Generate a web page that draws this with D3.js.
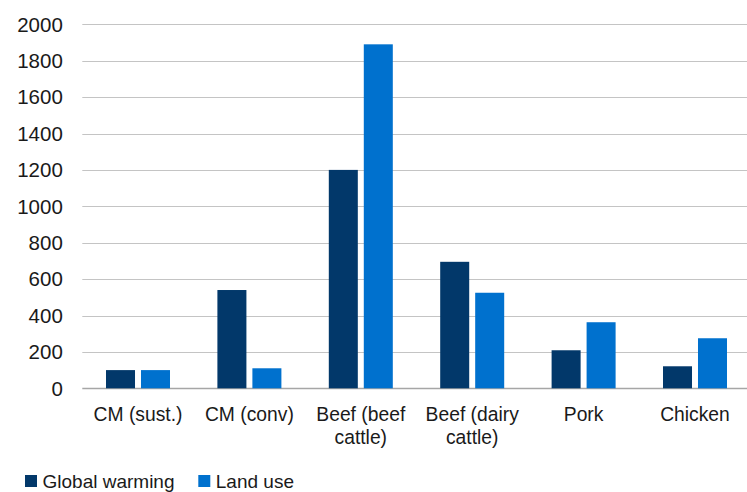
<!DOCTYPE html>
<html>
<head>
<meta charset="utf-8">
<script src="https://cdn.jsdelivr.net/npm/d3@7"></script>
<style>
  html, body { margin: 0; padding: 0; background: #fff; }
  svg { display: block; font-family: "Liberation Sans", Arial, sans-serif; }
</style>
</head>
<body>
<div id="bar-plot"></div>
<script>
// data
const categories = ["CM (sust.)", "CM (conv)", "Beef (beef cattle)", "Beef (dairy cattle)", "Pork", "Chicken"];
const series = ["Global warming", "Land use"];
const globalWarming = [100, 540, 1200, 695, 209, 121];
const landUse = [100, 110, 1890, 525, 363, 275];
const yTicks = [0, 200, 400, 600, 800, 1000, 1200, 1400, 1600, 1800, 2000];
const colors = ["#02386a", "#0071ce"];

const W = 747, H = 492;
const plot = {left: 82.3, right: 750.7, top: 24.3, bottom: 388.3};

const svg = d3.select("#bar-plot").append("svg")
  .attr("width", W).attr("height", H);

const y = d3.scaleLinear().domain([0, 2000]).range([plot.bottom, plot.top]);
const x0 = d3.scaleBand().domain(categories).range([plot.left, plot.right]).padding(0);
const inner = 23.7;
const x1 = d3.scaleBand().domain(series)
  .range([inner, x0.bandwidth() - inner])
  .paddingInner(0.171).paddingOuter(0);

// gridlines
svg.append("g").selectAll("line")
  .data(yTicks)
  .enter().append("line")
    .attr("x1", plot.left).attr("x2", plot.right)
    .attr("y1", d => Math.round(y(d)) + 0.5)
    .attr("y2", d => Math.round(y(d)) + 0.5)
    .attr("stroke", d => d === 0 ? "#a6a6a6" : "#c4c4c4")
    .attr("stroke-width", d => d === 0 ? 1.5 : 1.2);

// y tick labels
svg.append("g").selectAll("text")
  .data(yTicks)
  .enter().append("text")
    .attr("x", 62.8)
    .attr("y", d => y(d))
    .attr("dy", "0.36em")
    .attr("text-anchor", "end")
    .attr("font-size", 20.5)
    .attr("fill", "#1a1a1a")
    .text(d => d);

// bars
const rows = categories.map((c, i) => ({cat: c, vals: [globalWarming[i], landUse[i]]}));
const groups = svg.append("g").selectAll("g")
  .data(rows)
  .enter().append("g")
    .attr("transform", d => "translate(" + x0(d.cat) + ",0)");

groups.selectAll("rect")
  .data(d => d.vals.map((v, j) => ({s: series[j], v: v, j: j})))
  .enter().append("rect")
    .attr("x", d => x1(d.s))
    .attr("y", d => y(d.v))
    .attr("width", x1.bandwidth())
    .attr("height", d => y(0) - y(d.v))
    .attr("fill", d => colors[d.j]);

// x labels, wrapped
const xl = svg.append("g").selectAll("text")
  .data(categories)
  .enter().append("text")
    .attr("x", d => x0(d) + x0.bandwidth() / 2)
    .attr("y", 421)
    .attr("text-anchor", "middle")
    .attr("font-size", 19.3)
    .attr("fill", "#1a1a1a");

xl.each(function(d) {
  const t = d3.select(this);
  const words = d.split(" ");
  let line = [], lines = [];
  const probe = t.append("tspan");
  words.forEach(w => {
    line.push(w);
    probe.text(line.join(" "));
    if (probe.node().getComputedTextLength() > 100 && line.length > 1) {
      line.pop();
      lines.push(line.join(" "));
      line = [w];
    }
  });
  lines.push(line.join(" "));
  probe.remove();
  lines.forEach((l, k) => {
    t.append("tspan")
      .attr("x", x0(d) + x0.bandwidth() / 2)
      .attr("dy", k === 0 ? 0 : 23)
      .text(l);
  });
});

// legend (nudged up a little so the text is not cut at the bottom edge)
const legendX = [25, 198.3];
const leg = svg.append("g").selectAll("g")
  .data(series)
  .enter().append("g")
    .attr("transform", (d, i) => "translate(" + legendX[i] + ",475)");
leg.append("rect")
  .attr("width", 12).attr("height", 12)
  .attr("fill", (d, i) => colors[i]);
leg.append("text")
  .attr("x", 17.5).attr("y", 12.5)
  .attr("font-size", 19)
  .attr("fill", "#1a1a1a")
  .text(d => d);
</script>
</body>
</html>
